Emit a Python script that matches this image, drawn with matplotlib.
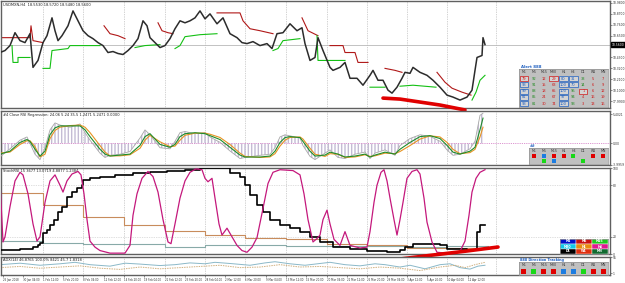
import numpy as np
import matplotlib
matplotlib.use("Agg")
import matplotlib.pyplot as plt
from matplotlib.patches import Rectangle
import matplotlib.transforms as mtransforms

nan = np.nan

# ---- main chart: USDMXN H4 closes (bar index, price) ----
price_x = [0, 5, 10, 15, 20, 25, 30, 33, 38, 43, 47, 52, 55, 58, 62, 68, 73, 78, 83, 88,
           93, 98, 103, 108, 113, 118, 123, 128, 133, 138, 143, 147, 150, 155, 160, 165, 170,
           175, 180, 185, 190, 195, 200, 205, 210, 217, 223, 230, 237, 242, 247, 253, 260, 267,
           272, 277, 283, 290, 297, 302, 305, 310, 315, 318, 323, 330, 333, 340, 345, 350, 357,
           363, 370, 373, 378, 383, 388, 392, 397, 402, 405, 410, 413, 420, 427, 433, 440, 447,
           453, 460, 467, 472, 475, 477, 482, 483, 485]
price_close = [18.48, 18.50, 18.55, 18.68, 18.60, 18.58, 18.67, 18.33, 18.40, 18.58, 18.65, 18.83,
               18.70, 18.60, 18.65, 18.75, 18.90, 18.80, 18.70, 18.65, 18.62, 18.58, 18.55, 18.48,
               18.49, 18.47, 18.46, 18.50, 18.55, 18.62, 18.80, 18.75, 18.63, 18.58, 18.53, 18.55,
               18.62, 18.72, 18.80, 18.78, 18.80, 18.83, 18.90, 18.82, 18.87, 18.77, 18.83, 18.67,
               18.63, 18.58, 18.57, 18.59, 18.55, 18.57, 18.52, 18.67, 18.68, 18.77, 18.70, 18.73,
               18.57, 18.40, 18.43, 18.63, 18.50, 18.33, 18.30, 18.33, 18.38, 18.22, 18.22, 18.15,
               18.25, 18.30, 18.20, 18.20, 18.10, 18.07, 18.13, 18.22, 18.28, 18.27, 18.33, 18.28,
               18.25, 18.20, 18.13, 18.05, 18.03, 18.00, 18.03, 18.10, 18.30, 18.43, 18.45, 18.63,
               18.56]

trail_red_x = [0, 30, 31, 33, 43, nan, 104, 110, 118, 125, nan, 158, 162, 168, 173, nan,
               217, 240, 243, 250, 260, 273, nan, 302, 308, 318, nan, 330, 343, 345, 355, 358, 368,
               nan, 385, 395, 402, nan, 437, 445, 452, 462, 471]
trail_red_y = [18.63, 18.63, 18.75, 18.60, 18.58, nan, 18.75, 18.67, 18.65, 18.62, nan,
               18.78, 18.70, 18.68, 18.67, nan, 18.88, 18.88, 18.80, 18.72, 18.70, 18.67, nan,
               18.83, 18.70, 18.65, nan, 18.55, 18.55, 18.48, 18.48, 18.38, 18.38, nan,
               18.32, 18.30, 18.28, nan, 18.28, 18.18, 18.12, 18.08, 18.05]
trail_green_x = [12, 13, 18, 18, 30, nan, 43, 50, 52, 68, 70, 100, nan, 135, 145, 160, nan,
                 175, 180, 185, 200, 217, nan, 273, 278, 283, 300, nan, 317, 318, 345, nan,
                 370, 385, nan, 400, 413, 436, nan, 472, 476, 480, 485]
trail_green_y = [18.55, 18.38, 18.38, 18.43, 18.43, nan, 18.32, 18.32, 18.50, 18.52, 18.55, 18.55,
                 nan, 18.53, 18.55, 18.56, nan, 18.52, 18.55, 18.64, 18.66, 18.67, nan,
                 18.50, 18.52, 18.60, 18.62, nan, 18.65, 18.40, 18.40, nan, 18.13, 18.13, nan,
                 18.14, 18.15, 18.13, nan, 18.00, 18.08, 18.20, 18.25]
trend_main_x = [383, 400, 420, 440, 465]
trend_main_y = [18.02, 18.01, 17.98, 17.95, 17.90]

price_ticks = [18.98, 18.87, 18.76, 18.65, 18.43, 18.32, 18.21, 18.10, 17.99]
last_price = 18.56

# ---- RSI regression panel ----
rsi_x = [0, 10, 20, 27, 30, 35, 40, 45, 50, 55, 60, 70, 80, 85, 90, 100, 105, 110, 120, 130,
         140, 145, 150, 160, 170, 175, 180, 185, 195, 205, 210, 220, 230, 240, 245, 260, 270,
         275, 280, 285, 290, 300, 303, 310, 315, 325, 330, 338, 345, 355, 365, 370, 375, 385,
         395, 400, 410, 420, 430, 440, 447, 453, 460, 470, 475, 480, 483]
rsi_green = [-1.98, -1.44, 0.18, 0.72, 0.36, -1.08, -2.34, -1.44, 1.62, 2.88, 3.24, 3.24, 3.24,
             2.52, 1.26, -1.08, -1.98, -2.34, -2.16, -1.98, -0.36, 1.26, 1.80, -0.18, -0.72,
             -0.18, 1.26, 1.80, 1.98, 1.80, 1.44, 0.72, -0.72, -2.16, -2.52, -2.52, -2.34, -1.44,
             0.18, 1.08, 1.26, 1.08, 0.36, -1.44, -2.34, -2.16, -1.62, -1.98, -2.52, -2.34, -1.98,
             -2.52, -2.16, -1.62, -1.98, -1.08, 0.18, 1.26, 1.44, 0.90, -0.36, -1.62, -1.98,
             -1.44, -0.72, 2.52, 4.68]
rsi_orange = [-1.8, -1.6, -0.2, 0.5, 0.5, -0.6, -2.5, -2.0, 0.9, 2.4, 3.0, 3.3, 3.4, 3.0, 2.0,
              -0.4, -1.6, -2.3, -2.3, -2.1, -0.9, 0.6, 1.5, 0.3, -0.6, -0.5, 0.6, 1.5, 1.9, 1.9,
              1.7, 1.1, -0.2, -1.8, -2.4, -2.6, -2.5, -1.9, -0.5, 0.6, 1.1, 1.2, 0.8, -0.9, -2.0,
              -2.4, -1.9, -2.0, -2.6, -2.5, -2.1, -2.4, -2.3, -1.8, -1.9, -1.5, -0.4, 0.8, 1.4,
              1.2, 0.2, -1.1, -1.9, -1.7, -1.1, 1.2, 3.0]
rsi_gray = [-2.5, -1.0, 0.6, 1.2, 0.0, -2.0, -3.0, -0.8, 2.5, 3.8, 3.4, 3.0, 3.6, 2.0, 0.6, -1.8,
            -2.6, -2.2, -2.0, -1.5, 1.0, 2.5, 1.6, -0.8, -1.0, 0.4, 2.0, 2.2, 1.8, 2.0, 1.2, 0.2,
            -1.4, -2.8, -2.6, -2.2, -2.0, -0.8, 1.2, 1.6, 1.4, 1.0, -0.4, -2.4, -3.0, -1.8, -1.2,
            -2.6, -2.8, -2.0, -1.6, -2.8, -1.8, -1.2, -2.2, -0.4, 0.9, 1.6, 1.3, 0.4, -1.2, -2.2,
            -2.0, -1.0, 0.4, 5.2, 5.6]

# ---- StochRSI panel ----
stoch_x = [0, 3, 5, 10, 15, 20, 23, 28, 33, 37, 40, 45, 50, 55, 60, 63, 67, 72, 78, 81, 84, 87,
           90, 95, 100, 110, 125, 130, 133, 137, 142, 148, 153, 158, 163, 168, 171, 175, 180,
           185, 190, 196, 202, 205, 208, 212, 215, 219, 222, 227, 232, 237, 242, 247, 252, 257,
           263, 268, 273, 280, 293, 300, 304, 308, 313, 317, 320, 323, 327, 330, 334, 340, 345,
           350, 360, 367, 370, 374, 377, 381, 384, 387, 390, 394, 397, 400, 403, 407, 412, 417,
           420, 424, 427, 432, 437, 447, 460, 465, 469, 472, 476, 480, 485]
stoch_k = [84, 14, 20, 55, 85, 95, 92, 70, 35, 15, 20, 60, 85, 92, 80, 72, 85, 93, 96, 92, 70,
           40, 15, 8, 4, 1, 1, 10, 45, 70, 88, 96, 90, 72, 40, 14, 12, 35, 65, 85, 95, 99, 98, 88,
           84, 88, 65, 35, 22, 30, 20, 10, 4, 2, 8, 19, 53, 82, 95, 98, 97, 92, 70, 40, 14, 18,
           22, 40, 51, 35, 17, 10, 26, 10, 7, 8, 26, 60, 80, 95, 98, 85, 65, 40, 22, 40, 60, 88,
           96, 98, 93, 65, 37, 14, 2, 1, 3, 15, 45, 72, 88, 95, 98]
trend_x = [0, 20, 33, 38, 40, 43, 47, 50, 54, 58, 62, 67, 72, 77, 82, 83, 90, 100, 115, 133, 150,
           167, 185, 200, 227, 230, 240, 245, 250, 257, 263, 270, 280, 290, 300, 310, 320, 333,
           350, 367, 387, 400, 405, 413, 430, 440, 447, 467, 475, 477, 480, 485]
trend_v = [5, 6, 8, 10, 13, 24, 28, 34, 40, 49, 55, 66, 72, 77, 80, 86, 88, 90, 92, 94, 95, 96,
           98, 100, 100, 94, 90, 80, 69, 57, 49, 40, 34, 30, 26, 20, 14, 8, 6, 3, 2, 5, 8, 12, 12,
           10, 6, 5, 5, 26, 34, 34]
htf_x = [1, 43, 83, 124, 165, 205, 245, 286, 327, 367, 407, 447, 488]
htf_tan = [71, 57, 43, 34, 27, 22, 19, 17, 12, 10, 7, 7, 7]
htf_teal = [15, 13, 12, 12, 8, 10, 10, 9, 9, 9, 8, 9, 9]
trend_low_x = [390, 400, 433, 467, 498]
trend_low_v = [-7, -5.8, -1.2, 3.5, 8.1]

# ---- bottom oscillator panel ----
osc_x1 = [0, 20, 40, 60, 75, 90, 110, 125, 140, 160, 175, 190, 205, 215, 230, 250, 265, 275,
          290, 305, 320, 330, 345, 360, 375, 385, 400, 410, 425, 440, 450, 460, 470, 478, 485]
osc_teal = [30, 35, 28, 33, 38, 30, 25, 35, 32, 27, 30, 36, 33, 38, 34, 28, 36, 40, 33, 28, 34,
            38, 30, 26, 33, 30, 22, 28, 16, 30, 33, 20, 15, 25, 28]
osc_x2 = [0, 20, 40, 60, 80, 100, 120, 140, 160, 180, 200, 220, 240, 260, 280, 300, 320, 340,
          360, 380, 400, 420, 440, 455, 465, 475, 485]
osc_tan = [20, 24, 18, 22, 26, 18, 14, 22, 16, 20, 24, 28, 20, 22, 30, 22, 24, 20, 16, 22, 18,
           10, 22, 28, 20, 30, 38]

# ---- time axis ----
time_pos = [3, 23, 43, 63, 83, 104, 124, 144, 165, 185, 205, 225, 245, 266, 286, 306, 327, 347,
            367, 387, 407, 427, 447, 468]
time_lbl = ["25 Jan 2018", "30 Jan 04:00", "1 Feb 12:00", "5 Feb 20:00", "8 Feb 04:00",
            "12 Feb 12:00", "14 Feb 20:00", "19 Feb 04:00", "21 Feb 12:00", "23 Feb 20:00",
            "28 Feb 04:00", "2 Mar 12:00", "6 Mar 20:00", "9 Mar 04:00", "13 Mar 12:00",
            "15 Mar 20:00", "20 Mar 04:00", "22 Mar 12:00", "26 Mar 20:00", "29 Mar 04:00",
            "3 Apr 12:00", "5 Apr 20:00", "10 Apr 04:00", "12 Apr 12:00"]
grid_pos = [43, 83, 124, 165, 205, 245, 286, 327, 367, 407, 447, 496]

# ---- info tables ----
tf_names = ["M1", "M5", "M15", "M30", "H1", "H4", "D1", "W1", "MN"]
alert_vals = [[79, 92, 12, 29, 80, 31, 33, 5, 7],
              [93, 91, 15, 63, 100, 70, 14, 6, 9],
              [99, 88, 18, 65, 100, 95, 1, 6, 12],
              [81, 85, 24, 67, 97, 94, 4, 16, 19],
              [93, 81, 30, 74, 100, 93, 3, 13, 16]]
alert_cols = ["rgrrbbgrr", "bgrrbbgrr", "bgrrbgrrr", "bgrrbgrrr", "bgrrbgrrr"]
alert_box = ["100111000", "100011000", "100010100", "100010000", "100010000"]
hash_names = ["M1", "M5", "M15", "H1", "H4", "D1", "W1", "MN"]
hash_row1 = "rbrrg-rr"
hash_row2 = "-gb--g--"
dir_states = "rgrrbbgrr"
tf_grid = [["M1", "M5", "M15"], ["M30", "H1", "H4"], ["D1", "W1", "MN"]]
tf_grid_col = [["#0010c8", "#c81010", "#20c820"], ["#10c8e8", "#e88a10", "#e01890"],
               ["#000000", "#e03010", "#106a30"]]

W, H = 625, 283
sq = {"r": "#e00000", "g": "#18d818", "b": "#1c7ce0"}
txt = {"r": "#d01818", "g": "#208a20", "b": "#2060c0"}
LBL = 2.2  # axis label size, MT4 pixel font is tiny

fig = plt.figure(figsize=(W / 100, H / 100), dpi=100)
fig.patch.set_facecolor("white")


def px_axes(x0, y0, x1, y1):
    return fig.add_axes([x0 / W, 1 - y1 / H, (x1 - x0) / W, (y1 - y0) / H])


ax1 = px_axes(1, 1, 610, 108)
ax2 = px_axes(1, 111, 610, 165)
ax3 = px_axes(1, 168, 610, 254)
ax4 = px_axes(1, 257, 610, 275)
panels = [ax1, ax2, ax3, ax4]

for a in panels:
    a.set_xlim(1, 610)
    a.set_facecolor("white")
    for s in a.spines.values():
        s.set_color("#606060")
        s.set_linewidth(1.0)
    a.yaxis.tick_right()
    a.tick_params(axis="y", labelsize=LBL, length=1.2, width=0.4, pad=0.6, colors="#303030")
    a.tick_params(axis="x", bottom=False, labelbottom=False)
    for g in grid_pos:
        a.axvline(g, color="#a8a8a8", lw=0.5, ls=(0, (1, 1.5)), zorder=0)

# main chart
ax1.set_ylim(17.92, 19.00)
ax1.axhline(last_price, color="#b8b8b8", lw=0.6, zorder=1)
ax1.plot(price_x, price_close, color="#2c2c2c", lw=1.1, zorder=3)
ax1.plot(trail_red_x, trail_red_y, color="#b01818", lw=0.8, zorder=2)
ax1.plot(trail_green_x, trail_green_y, color="#14c014", lw=0.8, zorder=2)
ax1.plot(trend_main_x, trend_main_y, color="#e00000", lw=2.6, solid_capstyle="round",
         zorder=5, clip_on=False)
ax1.set_yticks(price_ticks)
ax1.set_yticklabels([f"{v:.4f}" for v in price_ticks])
tr = mtransforms.blended_transform_factory(ax1.transAxes, ax1.transData)
ax1.text(1.002, last_price, f"{last_price:.4f}", transform=tr, fontsize=LBL, color="white",
         va="center", ha="left", bbox=dict(boxstyle="square,pad=0.2", fc="black", ec="black"))
ax1.text(0.004, 0.985, "USDMXN,H4  18.5530 18.5720 18.5480 18.5600", transform=ax1.transAxes,
         fontsize=2.6, va="top", color="#202020")

# RSI regression panel
ax2.set_ylim(-3.9959, 6.0)
ax2.fill_between(rsi_x, 0, rsi_gray, facecolor="none", edgecolor="#c4bcd4", hatch="|||||",
                 linewidth=0, zorder=1)
ax2.axhline(0, color="#d070c0", lw=0.6, ls=(0, (1, 1.2)), zorder=2)
ax2.plot(rsi_x, rsi_gray, color="#a8a8a8", lw=0.6, zorder=3)
ax2.plot(rsi_x, rsi_orange, color="#e69422", lw=0.8, zorder=4)
ax2.plot(rsi_x, rsi_green, color="#1e8c2a", lw=0.8, zorder=5)
ax2.set_yticks([5.4021, 0.0, -3.9959])
ax2.set_yticklabels(["5.4021", "0.00", "-3.9959"])
ax2.text(0.004, 0.97, "#4 Close RSI Regression: 24.06 5.24 35.5 1.2471 5.2471 0.0000",
         transform=ax2.transAxes, fontsize=2.6, va="top", color="#202020")

# StochRSI panel
ax3.set_ylim(0, 100)
ax3.axhline(80, color="#c0c0c0", lw=0.5, ls=(0, (1, 1.5)))
ax3.axhline(20, color="#c0c0c0", lw=0.5, ls=(0, (1, 1.5)))
ax3.plot(htf_x, htf_teal, color="#88aaa8", lw=0.8, drawstyle="steps-post", zorder=2)
ax3.plot(htf_x, htf_tan, color="#c88c5c", lw=0.8, drawstyle="steps-post", zorder=2)
ax3.plot(trend_x, trend_v, color="black", lw=1.2, drawstyle="steps-post", zorder=3)
ax3.plot(stoch_x, stoch_k, color="#c4187c", lw=0.9, zorder=4)
ax3.plot(trend_low_x, trend_low_v, color="#e00000", lw=2.6, solid_capstyle="round",
         zorder=6, clip_on=False)
ax3.set_yticks([100, 80, 20, 0])
ax3.set_yticklabels(["100", "80", "20", "0"])
ax3.text(0.004, 0.985, "StochRSI 15 3677 13.0719 4.8877 1.2384", transform=ax3.transAxes,
         fontsize=2.6, va="top", color="#202020")

# bottom oscillator panel
ax4.set_ylim(-5, 56)
ax4.plot(osc_x1, osc_teal, color="#8ab8c8", lw=0.7)
ax4.plot(osc_x2, osc_tan, color="#d0b080", lw=0.7, ls=(0, (1.5, 1)))
ax4.set_yticks([55, 1])
ax4.set_yticklabels(["55", "1"])
ax4.text(0.004, 0.96, "ADX(14) 46.8765 100.0% 8421 45.7 1.8318", transform=ax4.transAxes,
         fontsize=2.6, va="top", color="#202020")
ax4.tick_params(axis="x", bottom=True, labelbottom=True, labelsize=1.9, length=1.2, width=0.4,
                pad=1, colors="#303030")
ax4.set_xticks(time_pos)
ax4.set_xticklabels(time_lbl, ha="left")


def box_axes(x0, y0, x1, y1, ncol, nrow, fc="#c0c0c0"):
    b = px_axes(x0, y0, x1, y1)
    b.set_xlim(0, ncol)
    b.set_ylim(nrow, 0)
    b.set_facecolor(fc)
    b.set_xticks([])
    b.set_yticks([])
    for s in b.spines.values():
        s.set_color("#909090")
        s.set_linewidth(0.5)
    return b


# Alert 888 table
fig.text(521 / W, 1 - 66.5 / H, "Alert 888", fontsize=2.8, color="#2060c0", va="center",
         fontweight="bold")
tb = box_axes(519, 69, 608, 107, 9, 6)
for c, name in enumerate(tf_names):
    tb.text(c + 0.5, 0.5, name, fontsize=2.3, ha="center", va="center", color="#303030")
for r, row in enumerate(alert_vals):
    for c, v in enumerate(row):
        k = alert_cols[r][c]
        if alert_box[r][c] == "1":
            tb.add_patch(Rectangle((c + 0.08, r + 1.1), 0.84, 0.8, fc="#d4d4d4",
                                   ec=txt[k], lw=0.5))
        tb.text(c + 0.5, r + 1.5, str(v), fontsize=2.6, ha="center", va="center", color=txt[k])

# ## table in RSI panel
fig.text(530 / W, 1 - 146 / H, "##", fontsize=2.4, color="#2060c0", va="center",
         fontweight="bold")
hb = box_axes(529, 148, 608, 164, 8, 3)
for c, name in enumerate(hash_names):
    hb.text(c + 0.5, 0.5, name, fontsize=2.3, ha="center", va="center", color="#303030")
    for r, row in enumerate([hash_row1, hash_row2]):
        k = row[c]
        if k != "-":
            hb.add_patch(Rectangle((c + 0.3, r + 1.15), 0.4, 0.7, fc=sq[k], ec="none"))

# timeframe colour grid in StochRSI panel
gb = box_axes(560, 239, 608, 254, 3, 3)
for r in range(3):
    for c in range(3):
        gb.add_patch(Rectangle((c, r), 1, 1, fc=tf_grid_col[r][c], ec="white", lw=0.3))
        gb.text(c + 0.5, r + 0.5, tf_grid[r][c], fontsize=2.3, ha="center", va="center",
                color="white", fontweight="bold")

# 888 Direction Tracking
fig.text(520 / W, 1 - 259.5 / H, "888 Direction Tracking", fontsize=2.5, color="#2060c0",
         va="center", fontweight="bold")
db = box_axes(519, 262, 608, 275, 9, 2)
for c, name in enumerate(tf_names):
    db.text(c + 0.5, 0.5, name, fontsize=2.3, ha="center", va="center", color="#303030")
    db.add_patch(Rectangle((c + 0.25, 1.1), 0.5, 0.75, fc=sq[dir_states[c]], ec="none"))

fig.savefig("out.png", dpi=100)
